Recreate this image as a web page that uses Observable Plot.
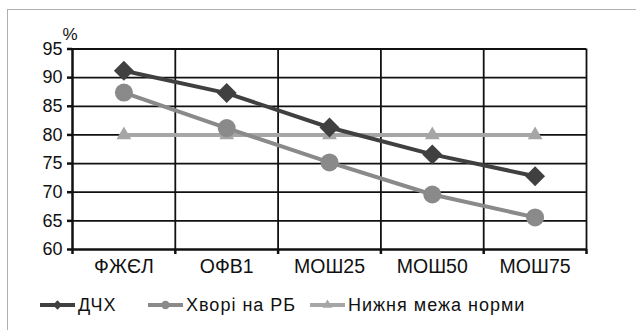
<!DOCTYPE html>
<html>
<head>
<meta charset="utf-8">
<script src="https://cdn.jsdelivr.net/npm/d3@7"></script>
<script src="https://cdn.jsdelivr.net/npm/@observablehq/plot@0.6"></script>
<style>
  body { margin: 0; background: #fff; font-family: "Liberation Sans", Arial, sans-serif; }
  #wrap { position: relative; width: 636px; height: 330px; overflow: hidden; }
  #border { position: absolute; left: 7px; top: 9px; width: 640px; height: 340px; border-top: 1.5px solid #b0b0b0; border-left: 1.5px solid #b0b0b0; }
  #legend { position: absolute; left: 0; top: 292px; width: 636px; height: 26px; font-size: 18px; letter-spacing: 1px; color: #111; }
  .item { position: absolute; top: 0; display: flex; align-items: center; height: 26px; }
  .item svg { margin-right: 3px; }
</style>
</head>
<body>
<div id="wrap"><div id="border"></div><div id="chart"></div><div id="legend"></div></div>
<script>
const categories = ["ФЖЄЛ", "ОФВ1", "МОШ25", "МОШ50", "МОШ75"];
const dchx = [91.2, 87.3, 81.3, 76.6, 72.8];
const patients = [87.4, 81.2, 75.2, 69.6, 65.6];
const lowerNorm = [80, 80, 80, 80, 80];
const yTicks = [60, 65, 70, 75, 80, 85, 90, 95];
const seriesNames = ["ДЧХ", "Хворі на РБ", "Нижня межа норми"];

const colors = ["#404040", "#8a8a8a", "#a6a6a6"];
const symbols = ["diamond2", "circle", "triangle"];
const sizes = [9, 9, 5.5];

const rows = [];
[dchx, patients, lowerNorm].forEach((vals, s) => {
  vals.forEach((v, i) => rows.push({series: seriesNames[s], s, x: i + 0.5, y: v}));
});

const n = categories.length;
const chart = Plot.plot({
  width: 636,
  height: 290,
  marginLeft: 72,
  marginRight: 50,
  marginTop: 48.5,
  marginBottom: 41,
  style: {fontFamily: "'Liberation Sans', Arial, sans-serif", fontSize: "18px", color: "#111", background: "transparent"},
  x: {type: "linear", domain: [0, n]},
  y: {domain: [60, 95]},
  marks: [
    Plot.ruleY(yTicks.slice(1), {stroke: "#111", strokeWidth: 1.8}),
    Plot.ruleX(d3.range(1, n + 1), {y1: 60, y2: 95, stroke: "#111", strokeWidth: 1.8}),
    Plot.axisY({ticks: yTicks, tickSize: 5, tickPadding: 5, label: null, fontSize: 18, strokeWidth: 2.5}),
    Plot.axisX({ticks: d3.range(0, n + 1), tickSize: 5, tickFormat: () => "", label: null, strokeWidth: 2.5}),
    Plot.axisX({ticks: d3.range(0, n).map(i => i + 0.5), tickSize: 0, tickPadding: 10, tickFormat: d => categories[Math.round(d - 0.5)], label: null, fontSize: 19.5}),
    Plot.ruleX([0], {stroke: "#111", strokeWidth: 2.5}),
    Plot.ruleY([60], {stroke: "#111", strokeWidth: 2.5}),
    Plot.text(["%"], {frameAnchor: "top-left", dx: -10, dy: -21, textAnchor: "start", fontSize: 17}),
    ...[2, 1, 0].map(s => Plot.line(rows.filter(d => d.s === s), {x: "x", y: "y", stroke: colors[s], strokeWidth: 4})),
    ...[2, 1, 0].map(s => Plot.dot(rows.filter(d => d.s === s), {x: "x", y: "y", fill: colors[s], stroke: "none", symbol: () => symbols[s], r: sizes[s]}))
  ]
});
document.getElementById("chart").appendChild(chart);

const legendX = [40, 148, 310];
const legend = document.getElementById("legend");
seriesNames.forEach((name, s) => {
  const item = document.createElement("div");
  item.className = "item";
  item.style.left = legendX[s] + "px";
  const sym = d3.create("svg").attr("width", 35).attr("height", 20);
  sym.append("line").attr("x1", 0).attr("x2", 35).attr("y1", 10).attr("y2", 10).attr("stroke", colors[s]).attr("stroke-width", 4);
  const symType = {diamond2: d3.symbolDiamond2, circle: d3.symbolCircle, triangle: d3.symbolTriangle}[symbols[s]];
  sym.append("path").attr("transform", "translate(17.5,10)").attr("d", d3.symbol(symType, s === 2 ? 40 : 55)()).attr("fill", colors[s]);
  item.appendChild(sym.node());
  const t = document.createElement("span");
  t.textContent = name;
  item.appendChild(t);
  legend.appendChild(item);
});
</script>
</body>
</html>
